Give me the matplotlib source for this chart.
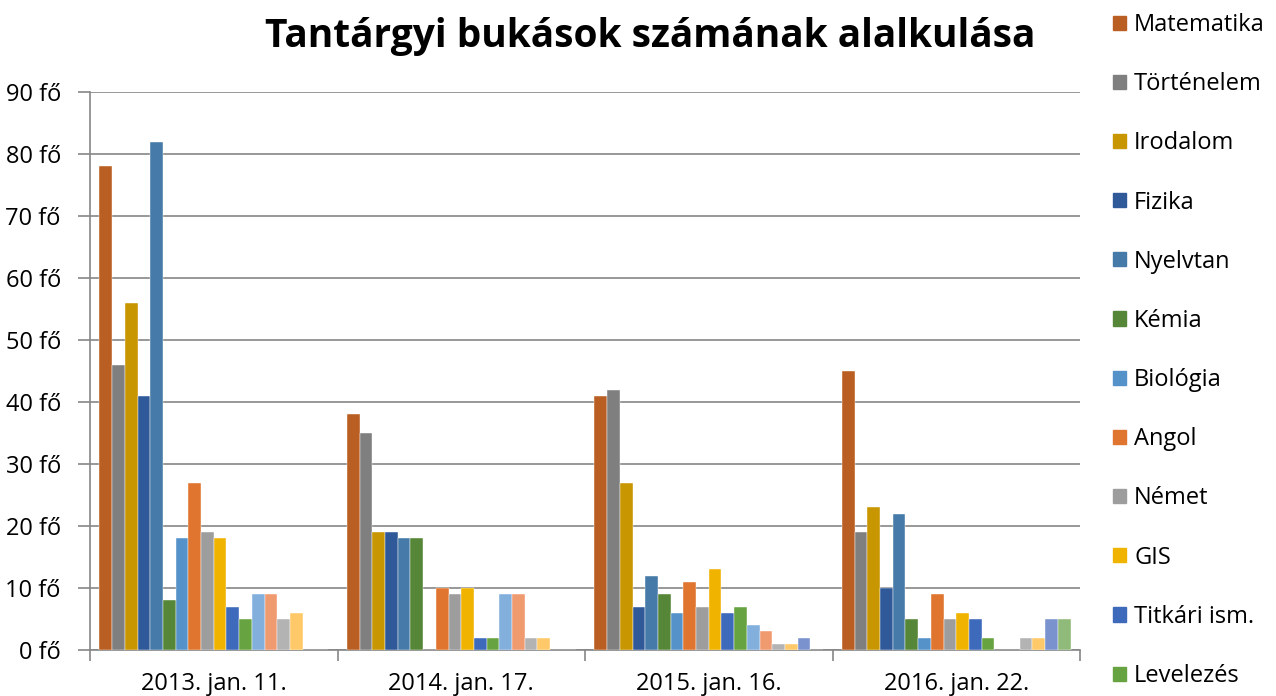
import matplotlib
matplotlib.use('Agg')
import matplotlib.pyplot as plt
import matplotlib.patches as mpatches
import numpy as np

plt.rcParams['font.family'] = ['Open Sans', 'DejaVu Sans']

dates = ['2013. jan. 11.', '2014. jan. 17.', '2015. jan. 16.', '2016. jan. 22.']

subjects = ['Matematika', 'Történelem', 'Irodalom', 'Fizika', 'Nyelvtan', 'Kémia',
            'Biológia', 'Angol', 'Német', 'GIS', 'Titkári ism.', 'Levelezés',
            'Sorozat13', 'Sorozat14', 'Sorozat15', 'Sorozat16', 'Sorozat17',
            'Sorozat18']

# one row per subject, one value per exam date
fails = [
    [78, 38, 41, 45],
    [46, 35, 42, 19],
    [56, 19, 27, 23],
    [41, 19, 7, 10],
    [82, 18, 12, 22],
    [8, 18, 9, 5],
    [18, 0, 6, 2],
    [27, 10, 11, 9],
    [19, 9, 7, 5],
    [18, 10, 13, 6],
    [7, 2, 6, 5],
    [5, 2, 7, 2],
    [9, 9, 4, 0],
    [9, 9, 3, 0],
    [5, 2, 1, 2],
    [6, 2, 1, 2],
    [0, 0, 2, 5],
    [0, 0, 0, 5],
]

colors = ['#BA5F24', '#7F7F7F', '#C89600', '#30599A', '#467AA8', '#568637',
          '#5592C9', '#E0752F', '#9D9D9D', '#F0B300', '#3E6ABB', '#68A342',
          '#83AFDD', '#F09A70', '#B3B3B3', '#FFC96A', '#7A93CF', '#90BA79']

# only the first 12 fit in the legend box
n_legend = 12

fig = plt.figure(figsize=(12.76, 6.96), dpi=100)
ax = fig.add_axes([90/1276, 46/696, 990/1276, 558/696])

x = np.arange(len(dates))
n = len(subjects)
w = 0.0513
for j in range(n):
    ax.bar(x + (j - (n - 1) / 2) * w, fails[j], width=w, color=colors[j],
           edgecolor='white', linewidth=0.3, zorder=3)

ax.set_xlim(-0.5, len(dates) - 0.5)
ax.set_ylim(0, 90)
ax.set_yticks(np.arange(0, 91, 10))
ax.set_yticklabels(['%d fő' % v for v in range(0, 91, 10)], fontsize=17)
ax.yaxis.grid(True, color='#868686', linewidth=1.2, zorder=0)
ax.tick_params(axis='y', length=9, color='#868686', width=1.2, pad=12)

ax.set_xticks(x)
ax.set_xticklabels(dates, fontsize=17)
ax.tick_params(axis='x', length=0, pad=16)
ax.set_xticks(np.arange(-0.5, len(dates) + 0.5, 1), minor=True)
ax.tick_params(axis='x', which='minor', length=8, color='#868686', width=1.2)

for s in ['top', 'right']:
    ax.spines[s].set_visible(False)
for s in ['left', 'bottom']:
    ax.spines[s].set_color('#868686')
    ax.spines[s].set_linewidth(1.2)

fig.text(650/1276, 1 - 37/696, 'Tantárgyi bukások számának alalkulása',
         ha='center', va='center', fontsize=28, fontweight='bold')

handles = [mpatches.Patch(color=colors[j], label=subjects[j]) for j in range(n_legend)]
fig.legend(handles=handles, loc='upper left', bbox_to_anchor=(1113/1276, 1 - 13/696),
           frameon=False, fontsize=17, handlelength=0.55, handleheight=0.55,
           handletextpad=0.35, labelspacing=1.49, borderaxespad=0, borderpad=0)

fig.savefig('out.png', dpi=100)
